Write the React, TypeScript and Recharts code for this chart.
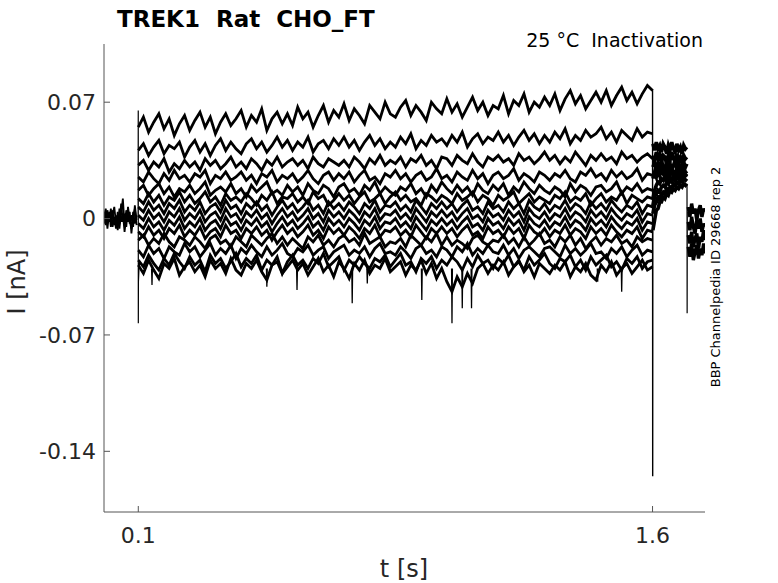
import { Line, LineChart, XAxis, YAxis } from 'recharts';

// sweep sample times (s) during the 0.1 – 1.6 s step
const STEP_T = [
  0.1, 0.115, 0.13, 0.145, 0.16, 0.175, 0.19, 0.205, 0.22, 0.235,
  0.25, 0.265, 0.28, 0.295, 0.31, 0.325, 0.34, 0.355, 0.37, 0.385,
  0.4, 0.415, 0.43, 0.445, 0.46, 0.475, 0.49, 0.505, 0.52, 0.535,
  0.55, 0.565, 0.58, 0.595, 0.61, 0.625, 0.64, 0.655, 0.67, 0.685,
  0.7, 0.715, 0.73, 0.745, 0.76, 0.775, 0.79, 0.805, 0.82, 0.835,
  0.85, 0.865, 0.88, 0.895, 0.91, 0.925, 0.94, 0.955, 0.97, 0.985,
  1.0, 1.015, 1.03, 1.045, 1.06, 1.075, 1.09, 1.105, 1.12, 1.135,
  1.15, 1.165, 1.18, 1.195, 1.21, 1.225, 1.24, 1.255, 1.27, 1.285,
  1.3, 1.315, 1.33, 1.345, 1.36, 1.375, 1.39, 1.405, 1.42, 1.435,
  1.45, 1.465, 1.48, 1.495, 1.51, 1.525, 1.54, 1.555, 1.57, 1.585,
  1.6,
];

// step currents in pA, one array per sweep (top to bottom)
const SWEEPS_PA = [
  [55, 61, 52, 58, 63, 54, 60, 50, 57, 62, 53, 59, 64, 55, 61, 51, 58, 63, 56, 60,
   65, 55, 62, 58, 66, 53, 60, 64, 57, 63, 56, 67, 60, 64, 55, 62, 68, 58, 65, 61,
   69, 59, 66, 62, 57, 68, 64, 60, 70, 63, 61, 67, 71, 62, 68, 64, 59, 70, 66, 63,
   72, 64, 69, 61, 67, 73, 65, 70, 62, 68, 66, 74, 63, 71, 68, 75, 64, 70, 67, 73,
   68, 75, 65, 72, 77, 69, 74, 66, 71, 76, 70, 77, 68, 74, 79, 71, 76, 69, 75, 80, 77],
  [41, 45, 38, 43, 47, 39, 44, 42, 46, 37, 43, 47, 40, 45, 38, 44, 48, 41, 46, 42,
   39, 45, 48, 42, 46, 40, 44, 49, 43, 47, 41, 46, 43, 49, 40, 45, 47, 42, 48, 44,
   49, 43, 47, 41, 46, 50, 44, 48, 42, 46, 43, 49, 45, 51, 42, 47, 44, 50, 46, 48,
   44, 50, 46, 52, 43, 48, 51, 45, 49, 47, 52, 46, 50, 44, 49, 53, 47, 51, 45, 50,
   46, 52, 48, 54, 45, 50, 47, 53, 49, 51, 55, 48, 52, 46, 53, 50, 47, 54, 49, 52, 51],
  [32, 35, 29, 34, 31, 36, 28, 33, 30, 35, 31, 34, 29, 36, 32, 35, 30, 33, 37, 31,
   34, 30, 36, 33, 29, 35, 32, 37, 31, 34, 36, 32, 35, 30, 37, 33, 31, 36, 34, 32,
   35, 31, 37, 34, 30, 36, 33, 38, 32, 35, 33, 37, 31, 36, 34, 38, 32, 35, 30, 37,
   36, 32, 38, 35, 33, 39, 34, 31, 37, 35, 38, 34, 36, 32, 39, 35, 37, 33, 36, 40,
   35, 38, 33, 37, 34, 40, 36, 32, 38, 35, 39, 35, 37, 33, 40, 36, 38, 34, 37, 39, 36],
  [25, 22, 28, 24, 21, 27, 23, 29, 24, 26, 22, 27, 25, 29, 21, 26, 24, 28, 23, 25,
   28, 23, 26, 21, 27, 25, 29, 22, 26, 24, 27, 22, 25, 29, 24, 21, 26, 28, 23, 27,
   24, 28, 22, 26, 29, 23, 25, 21, 27, 25, 29, 24, 27, 22, 26, 28, 23, 25, 30, 24,
   26, 22, 28, 25, 23, 29, 24, 27, 21, 26, 28, 24, 26, 30, 23, 27, 25, 22, 28, 26,
   23, 27, 25, 29, 24, 22, 28, 26, 30, 25, 27, 23, 29, 25, 28, 24, 26, 30, 23, 27, 26],
  [17, 20, 14, 18, 21, 15, 19, 13, 18, 16, 20, 15, 18, 22, 14, 17, 19, 16, 21, 15,
   18, 13, 20, 16, 19, 22, 15, 17, 14, 20, 16, 19, 14, 21, 17, 15, 20, 18, 13, 19,
   21, 16, 18, 14, 20, 17, 22, 15, 19, 16, 14, 19, 17, 21, 15, 18, 13, 20, 16, 22,
   18, 15, 20, 16, 19, 14, 21, 17, 15, 20, 17, 21, 14, 19, 16, 22, 18, 15, 20, 17,
   15, 19, 17, 13, 21, 16, 20, 18, 14, 19, 20, 16, 18, 22, 15, 19, 17, 21, 16, 18, 17],
  [12, 9, 15, 10, 14, 8, 13, 11, 16, 10, 14, 9, 12, 16, 10, 13, 8, 15, 11, 13,
   10, 15, 12, 8, 14, 11, 16, 9, 13, 12, 15, 10, 13, 9, 16, 12, 14, 8, 11, 15,
   11, 14, 9, 13, 16, 10, 12, 15, 9, 13, 16, 11, 14, 10, 12, 8, 15, 13, 10, 14,
   12, 9, 15, 11, 13, 16, 10, 14, 12, 8, 14, 11, 13, 16, 9, 12, 15, 10, 13, 11,
   9, 14, 12, 16, 10, 13, 11, 15, 8, 12, 15, 10, 13, 11, 16, 9, 14, 12, 10, 13, 12],
  [7, 4, 10, 5, 8, 3, 9, 6, 11, 4, 8, 5, 10, 3, 7, 9, 4, 11, 6, 8,
   3, 9, 6, 10, 5, 8, 2, 7, 11, 6, 9, 4, 7, 11, 5, 8, 3, 10, 6, 9,
   5, 10, 7, 3, 9, 6, 11, 4, 8, 7, 10, 5, 8, 4, 11, 7, 3, 9, 6, 10,
   6, 9, 4, 8, 11, 5, 7, 3, 10, 6, 8, 4, 10, 6, 9, 3, 11, 7, 5, 9,
   4, 8, 6, 11, 5, 9, 7, 3, 10, 6, 9, 5, 11, 7, 4, 8, 6, 10, 3, 8, 7],
  [2, -1, 5, 0, 3, -2, 4, 1, 6, -1, 3, 0, 5, -2, 2, 4, -1, 6, 1, 3,
   -2, 4, 1, 5, 0, 3, -3, 2, 6, 1, 4, -1, 2, 6, 0, 3, -2, 5, 1, 4,
   0, 5, 2, -2, 4, 1, 6, -1, 3, 2, 5, 0, 3, -1, 6, 2, -2, 4, 1, 5,
   1, 4, -1, 3, 6, 0, 2, -2, 5, 1, 3, -1, 5, 1, 4, -2, 6, 2, 0, 4,
   -1, 3, 1, 6, 0, 4, 2, -2, 5, 1, 4, 0, 6, 2, -1, 3, 1, 5, -2, 3, 2],
  [-3, -6, 0, -5, -2, -7, -1, -4, 1, -6, -2, -5, 0, -7, -3, -1, -6, 1, -4, -2,
   -7, -1, -4, 0, -5, -2, -8, -3, 1, -4, -1, -6, -3, 1, -5, -2, -7, 0, -4, -1,
   -5, 0, -3, -7, -1, -4, 1, -6, -2, -3, 0, -5, -2, -6, 1, -3, -7, -1, -4, 0,
   -4, -1, -6, -2, 1, -5, -3, -7, 0, -4, -2, -6, 0, -4, -1, -7, 1, -3, -5, -1,
   -6, -2, -4, 1, -5, -1, -3, -7, 0, -4, -1, -5, 1, -3, -6, -2, -4, 0, -7, -2, -3],
  [-8, -11, -5, -10, -7, -12, -6, -9, -4, -11, -7, -10, -5, -12, -8, -6, -11, -4, -9, -7,
   -12, -6, -9, -5, -10, -7, -13, -8, -4, -9, -6, -11, -8, -4, -10, -7, -12, -5, -9, -6,
   -10, -5, -8, -12, -6, -9, -4, -11, -7, -8, -5, -10, -7, -11, -4, -8, -12, -6, -9, -5,
   -9, -6, -11, -7, -4, -10, -8, -12, -5, -9, -7, -11, -5, -9, -6, -12, -4, -8, -10, -6,
   -11, -7, -9, -4, -10, -6, -8, -12, -5, -9, -6, -10, -4, -8, -11, -7, -9, -5, -12, -7, -8],
  [-13, -10, -16, -12, -15, -9, -14, -17, -11, -13, -16, -11, -14, -18, -12, -10, -15, -13, -17, -11,
   -14, -17, -10, -13, -16, -12, -9, -15, -11, -16, -12, -15, -18, -11, -14, -10, -16, -13, -17, -12,
   -10, -14, -12, -16, -9, -15, -13, -11, -17, -14, -15, -12, -17, -10, -13, -16, -11, -14, -9, -16,
   -11, -16, -13, -15, -18, -12, -10, -14, -16, -13, -14, -10, -15, -12, -17, -11, -16, -13, -9, -15,
   -13, -17, -11, -14, -10, -16, -12, -18, -14, -11, -16, -12, -14, -10, -15, -13, -17, -11, -14, -12, -13],
  [-19, -23, -16, -21, -18, -24, -17, -20, -22, -15, -20, -17, -23, -19, -15, -22, -18, -21, -16, -24,
   -18, -21, -16, -20, -23, -17, -22, -19, -15, -21, -23, -18, -20, -16, -22, -19, -17, -24, -20, -18,
   -16, -22, -19, -21, -17, -23, -18, -15, -21, -20, -22, -17, -20, -24, -18, -16, -21, -19, -23, -17,
   -19, -23, -17, -20, -15, -22, -18, -21, -16, -20, -21, -16, -22, -18, -24, -19, -17, -20, -23, -18,
   -17, -20, -23, -16, -21, -18, -22, -19, -15, -21, -20, -24, -18, -21, -17, -23, -19, -16, -22, -19, -20],
  [-25, -29, -22, -27, -31, -24, -28, -21, -26, -30, -23, -28, -25, -32, -22, -27, -24, -30, -26, -21,
   -29, -24, -27, -22, -31, -25, -28, -23, -33, -26, -22, -28, -25, -30, -24, -27, -21, -29, -26, -23,
   -31, -25, -28, -23, -27, -30, -24, -26, -22, -29, -25, -21, -28, -26, -32, -24, -27, -23, -30, -25,
   -28, -23, -26, -31, -24, -29, -22, -27, -25, -30, -24, -27, -22, -29, -26, -31, -23, -28, -25, -21,
   -27, -30, -24, -26, -22, -29, -25, -31, -23, -28, -25, -22, -29, -26, -31, -24, -27, -23, -30, -26, -25],
  [-28, -33, -25, -31, -36, -27, -30, -24, -34, -29, -26, -32, -28, -35, -25, -30, -27, -33, -24, -31,
   -34, -27, -30, -25, -32, -37, -28, -26, -33, -29, -25, -31, -27, -34, -29, -24, -32, -28, -35, -26,
   -30, -36, -27, -31, -25, -33, -28, -30, -24, -32, -29, -26, -34, -28, -31, -25, -33, -27, -36, -30,
   -38, -44, -35, -41, -33, -39, -30, -27, -33, -28, -31, -26, -34, -29, -25, -32, -28, -35, -27, -30,
   -33, -28, -31, -26, -35, -29, -32, -27, -34, -37, -28, -32, -26, -34, -30, -27, -33, -29, -25, -31, -29],
];

// holding current before the step (s, pA)
const PRE_T = [0, 0.005, 0.01, 0.015, 0.02, 0.025, 0.03, 0.035, 0.04, 0.045,
  0.05, 0.055, 0.06, 0.065, 0.07, 0.075, 0.08, 0.085, 0.09, 0.095];
const PRE_PA = [
  [2, -4, 5, -2, 6, -5, 1, -6, 4, -3, 9, -2, 3, -5, 7, -1, -6, 4, -3, 2],
  [-3, 4, -6, 3, -1, 5, -4, 2, -7, 6, -2, 3, -8, 1, 5, -3, 2, -5, 8, -1],
  [1, 6, -2, 4, -5, 2, 7, -3, 1, -6, 3, 12, -4, 5, -2, 4, -9, 1, 6, -4],
];

// capacitive transients (s, pA)
const ONSET_T = [0.0995, 0.0999, 0.1001, 0.1004, 0.102, 0.104];
const ONSET_PA = [0, 65, -63, -38, -30, -26];
const OFFSET_T = [1.6, 1.6004, 1.6008];
const OFFSET_PA = [78, -155, -7];
const TAIL_SPIKE_T = [1.7005, 1.7009, 1.7013];
const TAIL_SPIKE_PA = [21, -57, 4];

// brief downward events on the lowest sweep (s, pA)
const EVENT_T = [0.14, 0.475, 0.563, 0.724, 0.768, 0.927, 1.015, 1.045, 1.072, 1.44, 1.51];
const EVENT_PA = [-40, -41, -43, -51, -39, -49, -63, -54, -54, -38, -44];
const EVENT_BASE_PA = -30;

// tail after the step (s, pA)
const TAIL_T = [1.601, 1.606, 1.611, 1.616, 1.621, 1.626, 1.631, 1.636, 1.641, 1.646, 1.651,
  1.656, 1.661, 1.666, 1.671, 1.676, 1.681, 1.686, 1.691, 1.696, 1.7];
const TAIL_PA = [
  [45, 41, 46, 42, 44, 40, 45, 43, 39, 44, 41, 46, 42, 40, 45, 41, 43, 39, 44, 42, 43],
  [38, 35, 40, 36, 39, 34, 38, 37, 33, 38, 35, 40, 36, 34, 39, 35, 37, 33, 38, 36, 37],
  [31, 34, 29, 33, 30, 35, 31, 28, 34, 30, 33, 29, 32, 35, 30, 33, 29, 32, 34, 31, 33],
  [24, 28, 25, 30, 26, 29, 27, 31, 25, 29, 26, 30, 28, 25, 31, 27, 29, 26, 30, 28, 27],
  [12, 17, 20, 22, 21, 24, 23, 25, 22, 26, 24, 23, 26, 24, 27, 25, 24, 27, 25, 26, 25],
  [8, 13, 15, 17, 16, 19, 20, 19, 22, 21, 23, 22, 25, 23, 26, 24, 26, 25, 27, 26, 27],
  [3, 8, 10, 13, 12, 15, 16, 15, 18, 17, 19, 18, 21, 20, 22, 21, 23, 22, 24, 23, 24],
  [-7, -1, 5, 6, 10, 10, 13, 12, 15, 14, 17, 16, 18, 17, 19, 18, 20, 19, 21, 20, 21],
];

// last segment after the second transient (s, pA)
const END_T = [1.704, 1.709, 1.714, 1.719, 1.724, 1.729, 1.734, 1.739, 1.744, 1.749, 1.752];
const END_PA = [
  [7, 1, 9, 3, 6, -1, 5, 8, 1, 6, 4],
  [-2, -7, 1, -5, -9, -1, -6, 0, -8, -3, -5],
  [-10, -15, -8, -17, -12, -9, -18, -11, -14, -7, -13],
  [-17, -23, -15, -25, -20, -16, -24, -18, -22, -15, -21],
];

const X_TICKS = [0.1, 1.6];
const Y_TICKS = [-0.14, -0.07, 0, 0.07];

const FONT = 'DejaVu Sans, sans-serif';
const INK = '#262626';
const AXIS = '#555555';

const toSeries = (ts: number[], pa: number[]) => ts.map((t, i) => ({ t, v: pa[i] / 1000 }));

const eventSeries = EVENT_T.flatMap((t, i) => [
  { t: t - 0.0012, v: EVENT_BASE_PA / 1000 },
  { t, v: EVENT_PA[i] / 1000 },
  { t: t + 0.0012, v: EVENT_BASE_PA / 1000 },
  { t: t + 0.0014, v: null },
]);

const series: { d: any[]; w: number }[] = [
  ...PRE_PA.map((pa) => ({ d: toSeries(PRE_T, pa), w: 1.8 })),
  { d: toSeries(ONSET_T, ONSET_PA), w: 1.2 },
  ...SWEEPS_PA.map((pa) => ({ d: toSeries(STEP_T, pa), w: 2.8 })),
  { d: eventSeries, w: 1.3 },
  { d: toSeries(OFFSET_T, OFFSET_PA), w: 1.4 },
  ...TAIL_PA.map((pa) => ({ d: toSeries(TAIL_T, pa), w: 3.6 })),
  { d: toSeries(TAIL_SPIKE_T, TAIL_SPIKE_PA), w: 1.2 },
  ...END_PA.map((pa) => ({ d: toSeries(END_T, pa), w: 3.4 })),
];

export default function App() {
  return (
    <div style={{ position: 'relative', width: 778, height: 583, background: '#fff' }}>
      <style>{'body { margin: 0; }'}</style>
      <LineChart width={778} height={583} margin={{ top: 44, right: 73, bottom: 41, left: 14 }}>
        <XAxis
          type="number"
          dataKey="t"
          domain={[0, 1.753]}
          ticks={X_TICKS}
          allowDataOverflow
          height={30}
          tickSize={-6}
          tickMargin={21}
          stroke={AXIS}
          tick={{ fill: INK, fontSize: 22, fontFamily: FONT }}
        />
        <YAxis
          type="number"
          domain={[-0.1765, 0.105]}
          ticks={Y_TICKS}
          allowDataOverflow
          width={90}
          tickSize={-6}
          tickMargin={14}
          stroke={AXIS}
          tick={{ fill: INK, fontSize: 22, fontFamily: FONT }}
        />
        {series.map((s, i) => (
          <Line
            key={i}
            data={s.d}
            dataKey="v"
            type="linear"
            stroke="#000"
            strokeWidth={s.w}
            dot={false}
            connectNulls={false}
            isAnimationActive={false}
          />
        ))}
      </LineChart>
      <svg width={778} height={583} style={{ position: 'absolute', left: 0, top: 0, pointerEvents: 'none' }}>
        <text x={117} y={27} fontFamily={FONT} fontWeight="bold" fontSize={23} fill="#000" style={{ whiteSpace: 'pre' }}>
          TREK1  Rat  CHO_FT
        </text>
        <text x={703} y={47} textAnchor="end" fontFamily={FONT} fontSize={19} fill="#000" style={{ whiteSpace: 'pre' }}>
          25 °C  Inactivation
        </text>
        <text x={404} y={577} textAnchor="middle" fontFamily={FONT} fontSize={24} fill={INK}>
          t [s]
        </text>
        <text transform="translate(25,282) rotate(-90)" textAnchor="middle" fontFamily={FONT} fontSize={24} fill={INK}>
          I [nA]
        </text>
        <text transform="translate(720,277) rotate(-90)" textAnchor="middle" fontFamily={FONT} fontSize={13} fill="#000">
          BBP Channelpedia ID 29668 rep 2
        </text>
      </svg>
    </div>
  );
}
